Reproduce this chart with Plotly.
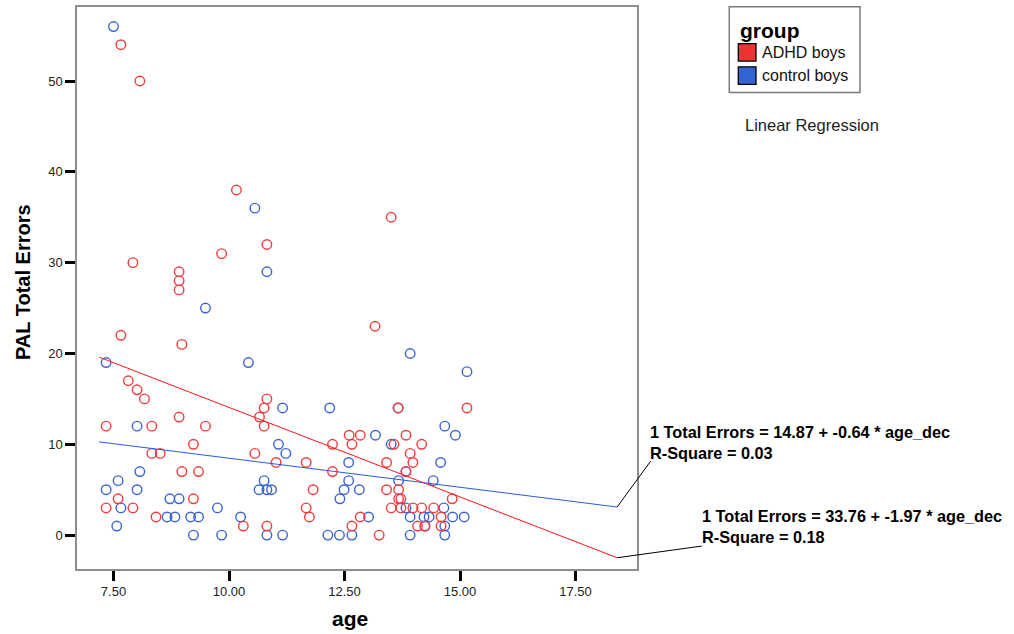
import plotly.graph_objects as go

# ---------------- data ----------------
adhd_age = [7.66, 8.07, 10.16, 10.82, 9.84, 7.92, 8.92, 8.92, 8.92, 7.66, 8.98, 13.51, 13.16,
            7.82, 8.01, 8.17, 10.82, 10.76, 10.66, 7.34, 8.33, 8.92, 9.49, 10.76, 12.60, 12.84,
            12.24, 12.66, 9.23, 8.33, 8.51, 10.56, 11.02, 11.67, 8.98, 9.34, 12.24, 11.82, 7.60,
            9.23, 7.34, 7.92, 11.67, 8.42, 11.74, 12.84, 10.31, 10.82, 12.66, 13.66, 15.15,
            13.83, 13.57, 14.17, 13.92, 13.98, 13.41, 13.83, 13.41, 13.67, 13.67, 13.72, 14.83,
            13.51, 13.72, 13.98, 14.17, 14.43, 14.59, 14.08, 14.24, 14.59, 13.25]
adhd_err = [54, 50, 38, 32, 31, 30, 29, 28, 27, 22, 21, 35, 23,
            17, 16, 15, 15, 14, 13, 12, 12, 13, 12, 12, 11, 11,
            10, 10, 10, 9, 9, 9, 8, 8, 7, 7, 7, 5, 4,
            4, 3, 3, 3, 2, 2, 2, 1, 1, 1, 14, 14,
            11, 10, 10, 9, 8, 8, 7, 5, 5, 4, 4, 4,
            3, 3, 3, 3, 3, 2, 1, 1, 1, 0]

ctrl_age = [7.50, 10.56, 10.82, 9.49, 13.92, 7.34, 10.42, 15.15, 11.16, 12.18, 13.66, 8.01,
            14.67, 14.90, 13.17, 11.07, 13.51, 11.23, 12.59, 14.58, 8.07, 13.83, 7.60, 10.76,
            12.59, 13.67, 14.42, 7.34, 8.01, 10.65, 10.82, 10.92, 12.49, 12.82, 12.40, 8.72,
            8.92, 7.66, 9.75, 13.83, 14.65, 8.66, 8.83, 9.17, 9.34, 10.25, 13.02, 13.92, 14.22,
            14.33, 14.84, 15.09, 7.57, 14.24, 14.67, 9.23, 9.84, 10.82, 11.16, 12.14, 12.39,
            12.66, 13.92, 14.67]
ctrl_err = [56, 36, 29, 25, 20, 19, 19, 18, 14, 14, 14, 12,
            12, 11, 11, 10, 10, 9, 8, 8, 7, 7, 6, 6,
            6, 6, 6, 5, 5, 5, 5, 5, 5, 5, 4, 4,
            4, 3, 3, 3, 3, 2, 2, 2, 2, 2, 2, 2, 2,
            2, 2, 2, 1, 1, 1, 0, 0, 0, 0, 0, 0,
            0, 0, 0]

# regression results shown in the chart
adhd_b0, adhd_b1, adhd_r2 = 33.76, -1.97, 0.18
ctrl_b0, ctrl_b1, ctrl_r2 = 14.87, -0.64, 0.03
fit_x = [7.19, 18.40]

group_names = ["ADHD boys", "control boys"]
x_ticks = [7.5, 10.0, 12.5, 15.0, 17.5]
x_tick_labels = ["7.50", "10.00", "12.50", "15.00", "17.50"]
y_ticks = [0, 10, 20, 30, 40, 50]

# ---------------- layout helpers ----------------
W, H = 1014, 634
PX_L, PX_R, PX_T, PX_B = 77, 637, 5, 569
XMIN, XMAX = 6.71, 18.83
YMIN, YMAX = -3.73, 58.15


def px_x(px):
    return (px - PX_L) / (PX_R - PX_L)


def px_y(py):
    return (PX_B - py) / (PX_B - PX_T)


def dx(x):
    return (x - XMIN) / (XMAX - XMIN)


def dy(y):
    return (y - YMIN) / (YMAX - YMIN)


RED = "rgb(242,60,60)"
BLUE = "rgb(58,100,212)"
LINE_RED = "rgb(255,20,20)"
LINE_BLUE = "rgb(40,90,225)"
FONT = "Liberation Sans, Arial, sans-serif"

fig = go.Figure()

fig.add_trace(go.Scatter(x=ctrl_age, y=ctrl_err, mode="markers", name=group_names[1],
                         marker=dict(symbol="circle-open", size=9.5, color=BLUE,
                                     line=dict(width=1.4, color=BLUE))))
fig.add_trace(go.Scatter(x=adhd_age, y=adhd_err, mode="markers", name=group_names[0],
                         marker=dict(symbol="circle-open", size=9.5, color=RED,
                                     line=dict(width=1.4, color=RED))))

ctrl_fit = [ctrl_b0 + ctrl_b1 * v for v in fit_x]
adhd_fit = [adhd_b0 + adhd_b1 * v for v in fit_x]
fig.add_trace(go.Scatter(x=fit_x, y=ctrl_fit, mode="lines",
                         line=dict(color=LINE_BLUE, width=1), hoverinfo="skip"))
fig.add_trace(go.Scatter(x=fit_x, y=adhd_fit, mode="lines",
                         line=dict(color=LINE_RED, width=1), hoverinfo="skip"))

shapes = []
annotations = []

# connectors from fit line ends to equation labels
shapes.append(dict(type="line", xref="paper", yref="paper",
                   x0=dx(fit_x[1]), y0=dy(ctrl_fit[1]), x1=px_x(650.7), y1=px_y(460.7),
                   line=dict(color="black", width=1)))
shapes.append(dict(type="line", xref="paper", yref="paper",
                   x0=dx(fit_x[1]), y0=dy(adhd_fit[1]), x1=px_x(701.7), y1=px_y(546),
                   line=dict(color="black", width=1)))

annotations.append(dict(xref="paper", yref="paper", x=px_x(648), y=px_y(441.7),
                        xanchor="left", yanchor="middle", align="left", showarrow=False,
                        text=f"1 Total Errors = {ctrl_b0:.2f} + {ctrl_b1:.2f} * age_dec<br>R-Square = {ctrl_r2:.2f}",
                        font=dict(family=FONT, size=16.3, color="black", weight="bold")))
annotations.append(dict(xref="paper", yref="paper", x=px_x(699.7), y=px_y(526.7),
                        xanchor="left", yanchor="middle", align="left", showarrow=False,
                        text=f"1 Total Errors = {adhd_b0:.2f} + {adhd_b1:.2f} * age_dec<br>R-Square = {adhd_r2:.2f}",
                        font=dict(family=FONT, size=16.3, color="black", weight="bold")))

# custom legend
shapes.append(dict(type="rect", xref="paper", yref="paper",
                   x0=px_x(729.3), x1=px_x(860), y0=px_y(90.7), y1=px_y(4.7),
                   line=dict(color="#7a7a7a", width=1.5), fillcolor="white"))
annotations.append(dict(xref="paper", yref="paper", x=px_x(737.5), y=px_y(29),
                        xanchor="left", yanchor="middle", showarrow=False, text="group",
                        font=dict(family=FONT, size=21, color="black", weight="bold")))
for i, (name, col) in enumerate(zip(group_names, ["rgb(240,50,50)", "rgb(50,100,210)"])):
    top = 41.7 + i * 23.3
    shapes.append(dict(type="rect", xref="paper", yref="paper",
                       x0=px_x(738.3), x1=px_x(756), y0=px_y(top + 17.6), y1=px_y(top),
                       line=dict(color="black", width=1.3), fillcolor=col))
    annotations.append(dict(xref="paper", yref="paper", x=px_x(760), y=px_y(top + 9),
                            xanchor="left", yanchor="middle", showarrow=False, text=name,
                            font=dict(family=FONT, size=16, color="#111")))

annotations.append(dict(xref="paper", yref="paper", x=px_x(743), y=px_y(123.3),
                        xanchor="left", yanchor="middle", showarrow=False,
                        text="Linear Regression",
                        font=dict(family=FONT, size=16.5, color="#222")))

# axis titles
annotations.append(dict(xref="paper", yref="paper", x=px_x(23), y=px_y(281),
                        xanchor="center", yanchor="middle", showarrow=False, textangle=-90,
                        text="PAL Total Errors",
                        font=dict(family=FONT, size=20, color="black", weight="bold")))
annotations.append(dict(xref="paper", yref="paper", x=px_x(350), y=px_y(619),
                        xanchor="center", yanchor="middle", showarrow=False,
                        text="age",
                        font=dict(family=FONT, size=21, color="black", weight="bold")))

fig.update_layout(
    width=W, height=H,
    margin=dict(l=PX_L, r=W - PX_R, t=PX_T, b=H - PX_B),
    paper_bgcolor="white", plot_bgcolor="white",
    showlegend=False,
    shapes=shapes, annotations=annotations,
    font=dict(family=FONT, size=13, color="#222"),
)
fig.update_xaxes(range=[XMIN, XMAX], tickvals=x_ticks, ticktext=x_tick_labels,
                 showgrid=False, zeroline=False, showline=True, mirror=True,
                 linecolor="#8e8e8e", linewidth=1.5,
                 ticks="outside", ticklen=10, tickwidth=2.5, tickcolor="black",
                 tickfont=dict(family=FONT, size=13, color="#222"))
fig.update_yaxes(range=[YMIN, YMAX], tickvals=y_ticks,
                 showgrid=False, zeroline=False, showline=True, mirror=True,
                 linecolor="#8e8e8e", linewidth=1.5,
                 ticks="outside", ticklen=10, tickwidth=2.5, tickcolor="black",
                 tickfont=dict(family=FONT, size=13, color="#222"))

fig.write_html("out.html")
